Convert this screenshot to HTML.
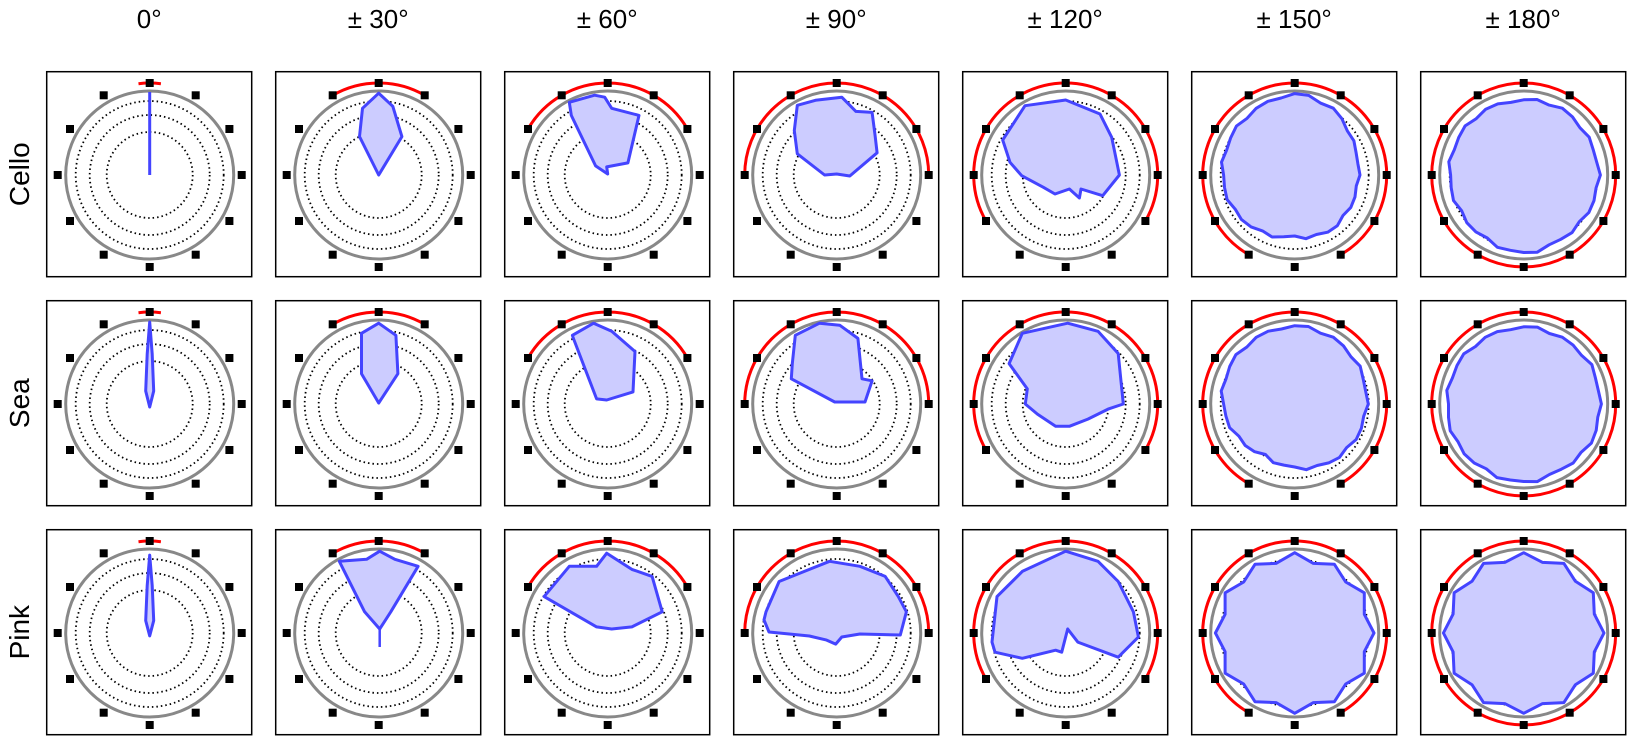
<!DOCTYPE html>
<html><head><meta charset="utf-8"><style>
html,body{margin:0;padding:0;background:#fff;}
svg{display:block;font-family:"Liberation Sans",sans-serif;}
</style></head><body>
<svg id="s" width="1627" height="736" viewBox="0 0 1627 736" xmlns="http://www.w3.org/2000/svg"></svg>
<script>
const S=document.getElementById('s');let h='';
const X0=46.7,Y0=71.7,SP=229,B=205;
const titles=['0°','± 30°','± 60°','± 90°','± 120°','± 150°','± 180°'];
const rows=['Cello','Sea','Pink'];
const k=1.01;
function P(a){return a.map(p=>[p[0]*k,p[1]*k]);}
function R(rs){const n=rs.length;return rs.map((r,i)=>{const t=i/n*2*Math.PI;return [r*1.03*Math.sin(t),-r*1.03*Math.cos(t)];});}
function interp(rs,m){const n=rs.length,o=[];for(let i=0;i<m;i++){const f=i/m*n,a=Math.floor(f),b=(a+1)%n,w=f-a;o.push(rs[a]*(1-w)+rs[b]*w+(Math.sin(i*2.3)*1.5));}return o;}
const spike=[[0,-82],[2.5,-50],[4,-13],[0,3],[-4,-13],[-2.5,-50]];
const shapes=[
[null,
 P([[0,-81],[14,-68],[23,-38],[0,0],[-19,-38],[-16,-66]]),
 P([[-38,-72],[-13,-79],[-3,-77],[4,-66],[31,-59],[20,-12],[-1,-8],[0,-1],[-12,-9],[-36,-59]]),
 P([[-39,-69],[-21,-74],[5,-77],[19,-63],[35,-62],[38,-39],[40,-22],[13,1],[0,-1],[-12,0],[-39,-21],[-42,-44]]),
 [[-40.7,-69.3],[0,-75],[34.3,-61],[46,-37.7],[53.7,0],[37,20.7],[15.3,14],[13.7,23],[3.7,14],[-10.7,19],[-22.3,12.3],[-44,0.7],[-55.7,-12.7],[-63,-35]],
 R(interp([79,74,65,62,62,64,60,64,68,70,72,74],36)),
 R(interp([73,74,72,73,72,72,76,72,71,72,73,73],36))],
[spike,
 P([[0,-80],[17,-68],[19,-30],[0,-1],[-17,-30],[-17,-70]]),
 P([[-35,-68],[-14,-80],[4,-72],[27,-52],[25,-12],[-1,-4],[-11,-5],[-34,-65]]),
 P([[-41,-68],[-17,-80],[3,-78],[21,-65],[25,-25],[35,-23],[28,-2],[-2,-2],[-45,-25],[-44,-40]]),
 P([[-56,-40],[-43,-70],[2,-80],[32,-72],[52,-50],[57,0],[42,5],[22,15],[4,22],[-10,22],[-28,10],[-40,0],[-38,-15]]),
 R(interp([76,74,72,70,68,66,62,58,64,70,73,74],36)),
 R(interp([75,74,75,74,75,73,76,74,75,74,75,74],36))],
[spike.map(p=>[p[0],p[1]*0.95]),
 P([[-39,-71],[-12,-73],[1,-81],[16,-73],[39,-66],[12,-21],[1,-4],[-14,-21]]),
 P([[-63,-36],[-38,-66],[-11,-66],[-1,-79],[24,-63],[44,-56],[54,-21],[24,-6],[4,-4],[-11,-6]]),
 P([[-70,-21],[-57,-51],[-32,-61],[-7,-71],[23,-66],[48,-56],[61,-36],[69,-21],[63,2],[23,1],[5,4],[-1,11],[-10,7],[-27,3],[-67,-1],[-72,-13]]),
 P([[-73,9],[-68,-36],[-53,-51],[-43,-61],[0,-81],[32,-71],[52,-51],[67,-21],[72,4],[52,24],[12,9],[2,-4],[-4,19],[-10,17],[-43,25],[-70,19]]),
 R([78,70,77,70,78,70,77,70,78,70,77,70,78,70,77,70,78,70,77,70,78,70,77,70]),
 R([78,71,78,71,78,71,78,71,78,71,78,71,78,71,78,71,78,71,78,71,78,71,78,71])]
];
function arcPath(cx,cy,r,deg){if(deg>=180)return `<circle cx="${cx}" cy="${cy}" r="${r}" fill="none" stroke="#f00" stroke-width="3"/>`;
const a=deg*Math.PI/180;const x1=cx-r*Math.sin(a),y1=cy-r*Math.cos(a),x2=cx+r*Math.sin(a);
return `<path d="M${x1.toFixed(1)},${y1.toFixed(1)} A${r},${r} 0 ${deg>90?1:0} 1 ${x2.toFixed(1)},${y1.toFixed(1)}" fill="none" stroke="#f00" stroke-width="3"/>`;}
for(let c=0;c<7;c++){h+=`<text x="${X0+c*SP+B/2}" y="28" font-size="26" text-anchor="middle">${titles[c]}</text>`;}
for(let r=0;r<3;r++){const cy0=Y0+r*SP+B/2;
 h+=`<text transform="translate(29,${cy0}) rotate(-90)" font-size="28" text-anchor="middle">${rows[r]}</text>`;
 for(let c=0;c<7;c++){const x=X0+c*SP,y=Y0+r*SP,cx=x+B/2+0.5,cy=y+B/2+0.8;
  h+=`<rect x="${x}" y="${y}" width="${B}" height="${B}" fill="#fff" stroke="#000" stroke-width="1.5"/>`;
  for(const rr of [74,60,43])h+=`<circle cx="${cx}" cy="${cy}" r="${rr}" fill="none" stroke="#000" stroke-width="1.8" stroke-dasharray="1.5 3"/>`;
  h+=arcPath(cx,cy,92,c==0?7:c*30);
  h+=`<circle cx="${cx}" cy="${cy}" r="84" fill="none" stroke="#888" stroke-width="3"/>`;
  for(let i=0;i<12;i++){const t=i*Math.PI/6;h+=`<rect x="${(cx+92*Math.sin(t)-4).toFixed(1)}" y="${(cy-92*Math.cos(t)-4).toFixed(1)}" width="8" height="8" fill="#000"/>`;}
  const sh=shapes[r][c];
  if(sh===null){h+=`<line x1="${cx}" y1="${cy}" x2="${cx}" y2="${cy-83}" stroke="#4444ff" stroke-width="3"/>`;}
  else{h+=`<polygon points="${sh.map(p=>(cx+p[0]).toFixed(1)+','+(cy+p[1]).toFixed(1)).join(' ')}" fill="#ccccff" stroke="#4444ff" stroke-width="3" stroke-linejoin="round"/>`;
   if(r==2&&c==1)h+=`<line x1="${cx+1}" y1="${cy-4}" x2="${cx+1}" y2="${cy+14}" stroke="#4444ff" stroke-width="2.5"/>`;}
 }}
S.innerHTML=h;
</script>
</body></html>
